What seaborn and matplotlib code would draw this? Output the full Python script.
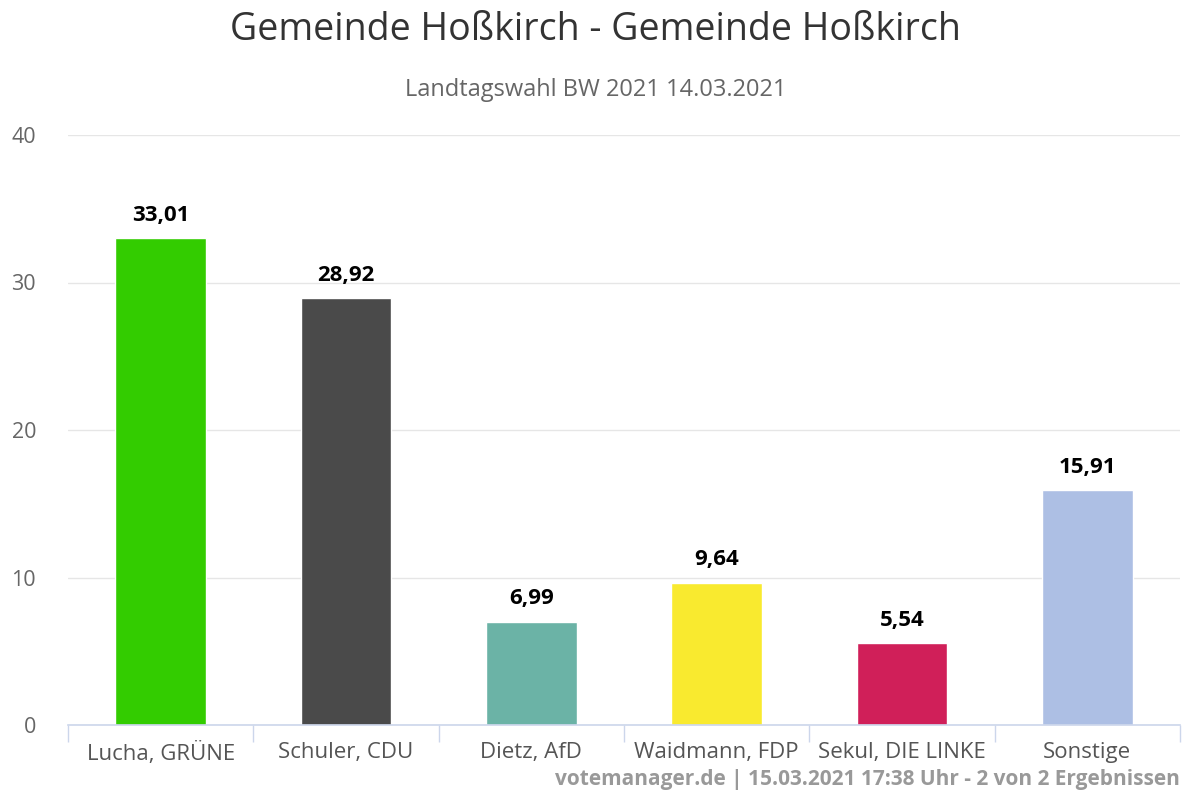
import matplotlib
matplotlib.use("Agg")
import matplotlib.pyplot as plt
import seaborn as sns
import pandas as pd
import numpy as np

categories = ["Lucha, GRÜNE", "Schuler, CDU", "Dietz, AfD", "Waidmann, FDP", "Sekul, DIE LINKE", "Sonstige"]
values = [33.01, 28.92, 6.99, 9.64, 5.54, 15.91]
colors = ["#33CC00", "#4A4A4A", "#6BB3A6", "#F9EA2F", "#D01F59", "#ADBFE4"]
yticks = [0, 10, 20, 30, 40]

title = "Gemeinde Hoßkirch - Gemeinde Hoßkirch"
subtitle = "Landtagswahl BW 2021 14.03.2021"
credit = "votemanager.de | 15.03.2021 17:38 Uhr - 2 von 2 Ergebnissen"

sns.set_theme(style="white")
plt.rcParams['font.family'] = ['Open Sans', 'DejaVu Sans']

df = pd.DataFrame({"cat": categories, "val": values})

fig = plt.figure(figsize=(11.89, 7.93), dpi=100)
ax = fig.add_axes([68/1189, 1-725/793, (1180-68)/1189, (725-135)/793])

sns.barplot(data=df, x="cat", y="val", hue="cat", palette=colors, dodge=False,
            legend=False, width=0.49, ax=ax, saturation=1)

ax.set_ylim(0, 40)
ax.set_xlim(-0.5, len(categories) - 0.5)
ax.set_yticks(yticks)
ax.set_yticklabels([str(t) for t in yticks], color="#666666", fontsize=15.5)
ax.yaxis.grid(True, color="#e6e6e6", linewidth=1)
ax.set_axisbelow(True)
ax.tick_params(axis="y", length=0, pad=23)

ax.set_xticks(range(len(categories)))
ax.set_xticklabels(categories, color="#555555", fontsize=16)
ax.tick_params(axis="x", which="major", length=0, pad=12)
ax.set_xticks(np.arange(-0.5, len(categories), 1), minor=True)
ax.tick_params(axis="x", which="minor", length=12, color="#ccd6eb", width=1, direction="out", bottom=True)

for s in ["top", "right", "left"]:
    ax.spines[s].set_visible(False)
ax.spines["bottom"].set_color("#ccd6eb")
ax.spines["bottom"].set_linewidth(1.2)
ax.set_xlabel("")
ax.set_ylabel("")

for i, v in enumerate(values):
    ax.annotate(f"{v:.2f}".replace(".", ","), (i, v), xytext=(0, 9), textcoords="offset points",
                ha="center", va="bottom", fontsize=16, fontweight="bold", color="#000000")

fig.text(595/1189, 1-30/793, title, ha="center", va="center", fontsize=27, color="#333333")
fig.text(596/1189, 1-90/793, subtitle, ha="center", va="center", fontsize=17, color="#666666")
fig.text(1180/1189, 1-779/793, credit, ha="right", va="center", fontsize=15, color="#999999", fontweight="bold")

fig.savefig("out.png", dpi=100)
